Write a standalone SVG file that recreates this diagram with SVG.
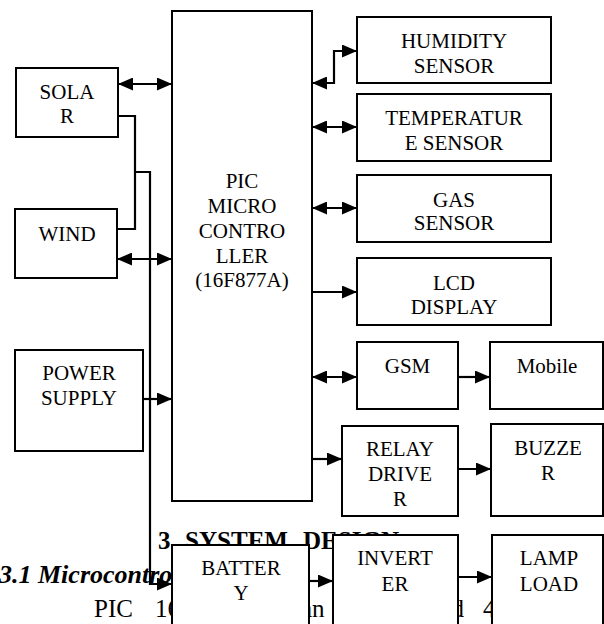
<svg xmlns="http://www.w3.org/2000/svg" width="604" height="624" viewBox="0 0 604 624">
<style>
.box{fill:#fff;stroke:#000;stroke-width:2}
.t{font-size:21px;text-anchor:middle;fill:#000}
.c{fill:none;stroke:#000;stroke-width:2.2}
.body{font-size:25px;fill:#000}
.h{font-size:25px;font-weight:bold;fill:#000}
.hi{font-size:26px;font-weight:bold;font-style:italic;fill:#000}
</style>
<defs>
<marker id="ah" markerUnits="userSpaceOnUse" markerWidth="15" markerHeight="13" refX="15" refY="6.5" orient="auto-start-reverse">
<path d="M0,0 L15,6.5 L0,13 z" fill="#000"/>
</marker>
</defs>
<rect width="604" height="624" fill="#fff"/>
<g font-family="Liberation Serif, Times New Roman, DejaVu Serif, serif">
<g id="page-text">
<text class="h"><tspan x="158" y="549">3.</tspan><tspan x="185" y="549" textLength="103" lengthAdjust="spacingAndGlyphs">SYSTEM</tspan><tspan x="303" y="549" textLength="96" lengthAdjust="spacingAndGlyphs">DESIGN</tspan></text>
<text class="hi" x="-1" y="583">3.1 Microcontroller</text>
<text class="body" y="617"><tspan x="94">PIC</tspan><tspan x="155">16</tspan><tspan x="301">an</tspan><tspan x="428">and</tspan><tspan x="483">40</tspan></text>
</g>
<g id="solar"><rect class="box" x="16" y="68" width="102" height="69"/><text class="t" x="67" y="99">SOLA</text><text class="t" x="67" y="123">R</text></g>
<g id="wind"><rect class="box" x="15" y="209" width="102" height="69"/><text class="t" x="67" y="241">WIND</text></g>
<g id="power"><rect class="box" x="15" y="350" width="128" height="101"/><text class="t" x="79" y="380">POWER</text><text class="t" x="79" y="405">SUPPLY</text></g>
<g id="controller"><rect class="box" x="172" y="11" width="140" height="490"/>
<text class="t" x="242" y="188">PIC</text><text class="t" x="242" y="213">MICRO</text><text class="t" x="242" y="238">CONTRO</text><text class="t" x="242" y="263">LLER</text><text class="t" x="242" y="287">(16F877A)</text></g>
<g id="humidity"><rect class="box" x="357" y="17" width="194" height="66"/><text class="t" x="454" y="48">HUMIDITY</text><text class="t" x="454" y="73">SENSOR</text></g>
<g id="temperature"><rect class="box" x="357" y="94" width="194" height="67"/><text class="t" x="454" y="125">TEMPERATUR</text><text class="t" x="454" y="150">E SENSOR</text></g>
<g id="gas"><rect class="box" x="357" y="175" width="194" height="67"/><text class="t" x="454" y="207">GAS</text><text class="t" x="454" y="230">SENSOR</text></g>
<g id="lcd"><rect class="box" x="357" y="258" width="194" height="67"/><text class="t" x="454" y="290">LCD</text><text class="t" x="454" y="314">DISPLAY</text></g>
<g id="gsm"><rect class="box" x="357" y="342" width="101" height="67"/><text class="t" x="407.5" y="373">GSM</text></g>
<g id="mobile"><rect class="box" x="490" y="342" width="113" height="67"/><text class="t" x="547" y="373">Mobile</text></g>
<g id="relay"><rect class="box" x="342" y="426" width="116" height="90"/><text class="t" x="400" y="456">RELAY</text><text class="t" x="400" y="481">DRIVE</text><text class="t" x="400" y="506">R</text></g>
<g id="buzzer"><rect class="box" x="491" y="424" width="112" height="92"/><text class="t" x="548" y="455">BUZZE</text><text class="t" x="548" y="480">R</text></g>
<g id="battery"><rect class="box" x="172" y="545" width="137" height="90"/><text class="t" x="241" y="575">BATTER</text><text class="t" x="241" y="600">Y</text></g>
<g id="inverter"><rect class="box" x="333" y="535" width="125" height="100"/><text class="t" x="395" y="565">INVERT</text><text class="t" x="395" y="591">ER</text></g>
<g id="lamp"><rect class="box" x="492" y="535" width="111" height="100"/><text class="t" x="549" y="565">LAMP</text><text class="t" x="549" y="591">LOAD</text></g>
</g>
<g id="connectors">
<path class="c" d="M118,84 H172" marker-start="url(#ah)" marker-end="url(#ah)"/>
<path class="c" d="M117,259 H172" marker-start="url(#ah)" marker-end="url(#ah)"/>
<path class="c" d="M118,116 H135 V229 H117"/>
<path class="c" d="M135,172 H150 V584 H172" marker-end="url(#ah)"/>
<path class="c" d="M143,399 H172" marker-end="url(#ah)"/>
<path class="c" d="M312,83 H334 V51 H357" marker-start="url(#ah)" marker-end="url(#ah)"/>
<path class="c" d="M312,127 H357" marker-start="url(#ah)" marker-end="url(#ah)"/>
<path class="c" d="M312,208 H357" marker-start="url(#ah)" marker-end="url(#ah)"/>
<path class="c" d="M312,292 H357" marker-end="url(#ah)"/>
<path class="c" d="M312,377 H357" marker-start="url(#ah)" marker-end="url(#ah)"/>
<path class="c" d="M458,377 H490" marker-end="url(#ah)"/>
<path class="c" d="M312,459 H342" marker-end="url(#ah)"/>
<path class="c" d="M458,469 H491" marker-end="url(#ah)"/>
<path class="c" d="M309,581 H333" marker-end="url(#ah)"/>
<path class="c" d="M458,577 H492" marker-end="url(#ah)"/>
</g>
</svg>
